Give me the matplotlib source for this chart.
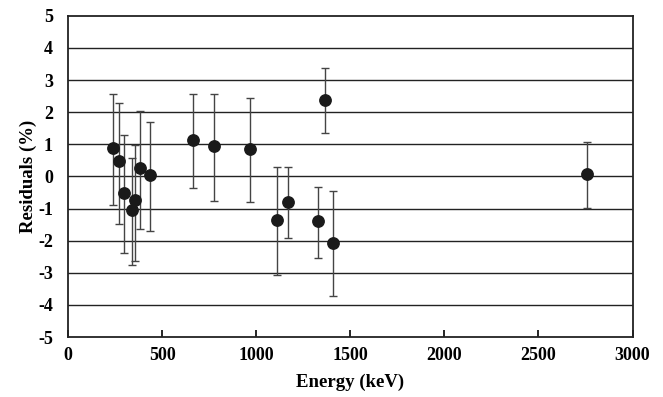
import matplotlib
matplotlib.use('Agg')
import matplotlib.pyplot as plt
import numpy as np

plt.rcParams['font.family'] = ['Liberation Serif', 'DejaVu Serif']
plt.rcParams['font.weight'] = 'bold'
plt.rcParams['axes.unicode_minus'] = False

# energy (keV), residual (%), upper and lower error bar ends (%)
energy = [239, 271, 295, 341, 353, 379, 436, 663, 777, 964,
          1112, 1168, 1330, 1365, 1406, 2759]
residual = [0.88, 0.48, -0.51, -1.04, -0.73, 0.25, 0.05, 1.15, 0.96, 0.84,
            -1.35, -0.79, -1.39, 2.37, -2.08, 0.09]
err_top = [2.57, 2.30, 1.30, 0.59, 0.98, 2.05, 1.70, 2.58, 2.58, 2.44,
           0.28, 0.31, -0.33, 3.38, -0.44, 1.07]
err_bottom = [-0.90, -1.49, -2.37, -2.75, -2.62, -1.65, -1.69, -0.37, -0.75, -0.81,
              -3.06, -1.92, -2.53, 1.34, -3.73, -0.98]

residual = np.array(residual)
yerr = [residual - np.array(err_bottom), np.array(err_top) - residual]

fig = plt.figure(figsize=(6.63, 3.97), dpi=100)
ax = fig.add_axes([0.103, 0.151, 0.851, 0.809])

# horizontal grid at every integer
for y in range(-4, 5):
    ax.axhline(y, color='#222222', linewidth=1.0, zorder=1)

ax.errorbar(energy, residual, yerr=yerr, fmt='o', color='#1a1a1a',
            ecolor='#444444', elinewidth=1.0, capsize=3, capthick=1.0,
            markersize=8.2, zorder=3)

ax.set_xlim(0, 3000)
ax.set_ylim(-5, 5)
ax.set_xticks(np.arange(0, 3001, 500))
ax.set_yticks(np.arange(-5, 6, 1))
ax.tick_params(axis='x', direction='in', length=5, width=1.2, pad=7,
               labelsize=13)
ax.tick_params(axis='y', length=0, pad=11, labelsize=13)
for lab in ax.get_xticklabels() + ax.get_yticklabels():
    lab.set_fontweight('bold')

for s in ax.spines.values():
    s.set_linewidth(1.3)
    s.set_color('#222222')

ax.set_xlabel('Energy (keV)', fontsize=13.5, fontweight='bold', labelpad=7)
ax.set_ylabel('Residuals (%)', fontsize=13.5, fontweight='bold', labelpad=1)

plt.savefig('out.png', dpi=100)
